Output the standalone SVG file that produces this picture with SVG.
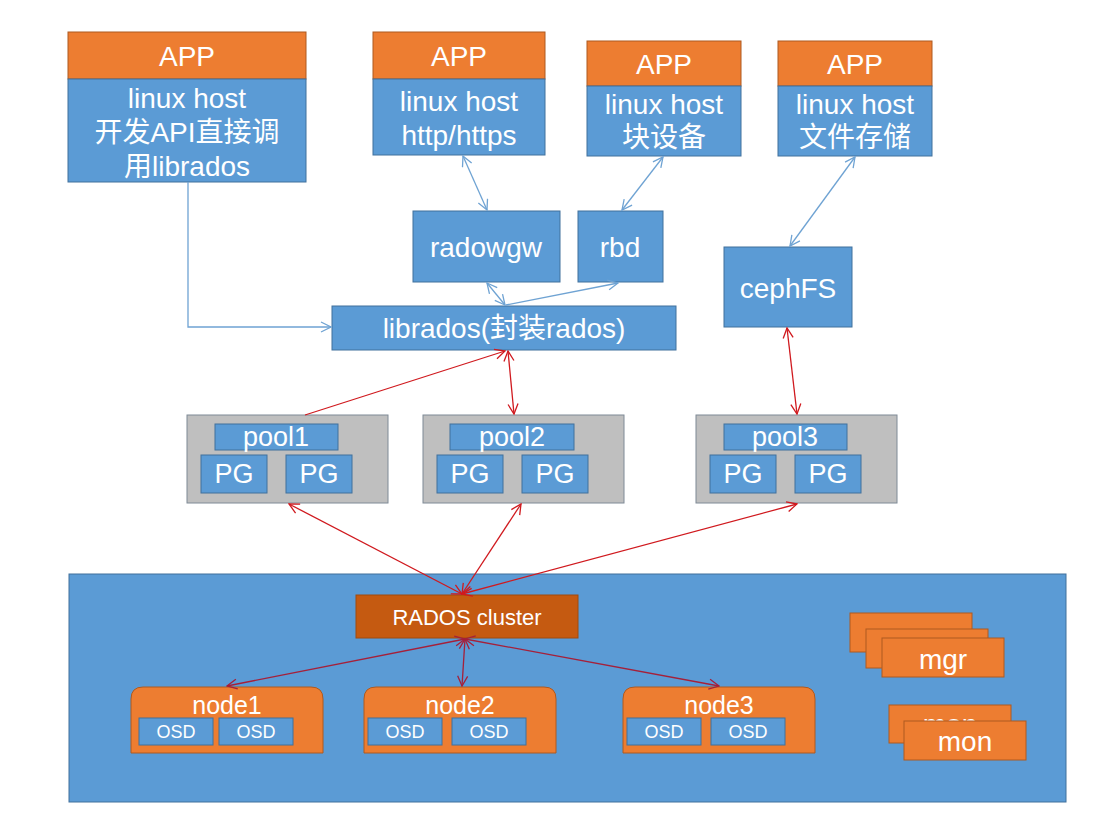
<svg xmlns="http://www.w3.org/2000/svg" width="1115" height="818" viewBox="0 0 1115 818">
<defs>
<style>
.o{fill:#ED7D31;stroke:#AE5A21;stroke-width:1}
.b{fill:#5B9BD5;stroke:#41719C;stroke-width:1}
.g{fill:#BFBFBF;stroke:#7F8A96;stroke-width:1}
.d{fill:#C55A11;stroke:#A04A0E;stroke-width:1}
text{fill:#fff;font-family:"Liberation Sans","Noto Sans CJK SC",sans-serif;text-anchor:middle;dominant-baseline:central}
.t28{font-size:28px}.t27{font-size:27px}.t24{font-size:25px}.t22{font-size:25px}.t19{font-size:22px}.t16{font-size:18px}
.lb{stroke:#6FA3D3;stroke-width:1.3;fill:none}
.lr{stroke:#D0191E;stroke-width:1.3;fill:none}
.lp{stroke:#A5203A;stroke-width:1.3;fill:none}
</style>
<marker id="ab" viewBox="0 0 12 12" refX="11" refY="6" markerWidth="12" markerHeight="12" markerUnits="userSpaceOnUse" orient="auto-start-reverse"><path d="M1,1 L11,6 L1,11" fill="none" stroke="#6FA3D3" stroke-width="1.3"/></marker>
<marker id="ar" viewBox="0 0 12 12" refX="11" refY="6" markerWidth="12" markerHeight="12" markerUnits="userSpaceOnUse" orient="auto-start-reverse"><path d="M1,1 L11,6 L1,11" fill="none" stroke="#D0191E" stroke-width="1.3"/></marker>
<marker id="ap" viewBox="0 0 12 12" refX="11" refY="6" markerWidth="12" markerHeight="12" markerUnits="userSpaceOnUse" orient="auto-start-reverse"><path d="M1,1 L11,6 L1,11" fill="none" stroke="#A5203A" stroke-width="1.3"/></marker>
</defs>
<rect width="1115" height="818" fill="#fff"/>

<g id="cluster">
<rect class="b" x="69" y="574" width="997" height="228"/>
</g>

<g id="app1">
<rect class="o" x="68" y="32" width="238" height="47"/>
<rect class="b" x="68" y="79" width="238" height="103"/>
<text class="t28" x="187" y="56">APP</text>
<text class="t28" x="187" y="98">linux host</text>
<text class="t28" x="187" y="132">开发API直接调</text>
<text class="t28" x="187" y="166">用librados</text>
</g>
<g id="app2">
<rect class="o" x="373" y="32" width="172" height="47"/>
<rect class="b" x="373" y="79" width="172" height="76"/>
<text class="t28" x="459" y="56">APP</text>
<text class="t28" x="459" y="101">linux host</text>
<text class="t28" x="459" y="135">http/https</text>
</g>
<g id="app3">
<rect class="o" x="587" y="41" width="154" height="45"/>
<rect class="b" x="587" y="86" width="154" height="70"/>
<text class="t28" x="664" y="64">APP</text>
<text class="t28" x="664" y="104">linux host</text>
<text class="t28" x="664" y="137">块设备</text>
</g>
<g id="app4">
<rect class="o" x="778" y="41" width="154" height="45"/>
<rect class="b" x="778" y="86" width="154" height="70"/>
<text class="t28" x="855" y="64">APP</text>
<text class="t28" x="855" y="104">linux host</text>
<text class="t28" x="855" y="137">文件存储</text>
</g>

<g id="radowgw"><rect class="b" x="413" y="211" width="147" height="71"/><text class="t28" x="486" y="247">radowgw</text></g>
<g id="rbd"><rect class="b" x="578" y="211" width="85" height="71"/><text class="t28" x="620" y="247">rbd</text></g>
<g id="cephfs"><rect class="b" x="724" y="247" width="128" height="80"/><text class="t28" x="788" y="288">cephFS</text></g>
<g id="librados"><rect class="b" x="332" y="306" width="344" height="44"/><text class="t28" x="504" y="328">librados(封装rados)</text></g>

<g id="pool1">
<rect class="g" x="187" y="415" width="201" height="88"/>
<rect class="b" x="215" y="424" width="123" height="26"/><text class="t27" x="276" y="437">pool1</text>
<rect class="b" x="201" y="455" width="66" height="38"/><text class="t27" x="234" y="474">PG</text>
<rect class="b" x="286" y="455" width="66" height="38"/><text class="t27" x="319" y="474">PG</text>
</g>
<g id="pool2">
<rect class="g" x="423" y="415" width="201" height="88"/>
<rect class="b" x="450" y="424" width="124" height="26"/><text class="t27" x="512" y="437">pool2</text>
<rect class="b" x="437" y="455" width="66" height="38"/><text class="t27" x="470" y="474">PG</text>
<rect class="b" x="522" y="455" width="66" height="38"/><text class="t27" x="555" y="474">PG</text>
</g>
<g id="pool3">
<rect class="g" x="696" y="415" width="201" height="88"/>
<rect class="b" x="724" y="424" width="123" height="26"/><text class="t27" x="785" y="437">pool3</text>
<rect class="b" x="710" y="455" width="66" height="38"/><text class="t27" x="743" y="474">PG</text>
<rect class="b" x="795" y="455" width="66" height="38"/><text class="t27" x="828" y="474">PG</text>
</g>

<g id="rados"><rect class="d" x="356" y="595" width="222" height="43"/><text class="t19" x="467" y="617">RADOS cluster</text></g>

<g id="node1">
<path class="o" d="M131,753 V699 Q131,687 143,687 H311 Q323,687 323,699 V753 Z"/>
<text class="t22" x="227" y="705">node1</text>
<rect class="b" x="139" y="718" width="74" height="27"/><text class="t16" x="176" y="732">OSD</text>
<rect class="b" x="219" y="718" width="74" height="27"/><text class="t16" x="256" y="732">OSD</text>
</g>
<g id="node2">
<path class="o" d="M364,753 V699 Q364,687 376,687 H544 Q556,687 556,699 V753 Z"/>
<text class="t22" x="460" y="705">node2</text>
<rect class="b" x="368" y="718" width="74" height="27"/><text class="t16" x="405" y="732">OSD</text>
<rect class="b" x="452" y="718" width="74" height="27"/><text class="t16" x="489" y="732">OSD</text>
</g>
<g id="node3">
<path class="o" d="M623,753 V699 Q623,687 635,687 H803 Q815,687 815,699 V753 Z"/>
<text class="t22" x="719" y="705">node3</text>
<rect class="b" x="627" y="718" width="74" height="27"/><text class="t16" x="664" y="732">OSD</text>
<rect class="b" x="711" y="718" width="74" height="27"/><text class="t16" x="748" y="732">OSD</text>
</g>

<g id="mgr">
<rect class="o" x="850" y="613" width="122" height="39"/>
<rect class="o" x="866" y="629" width="122" height="39"/>
<rect class="o" x="882" y="638" width="122" height="39"/>
<text class="t28" x="943" y="659">mgr</text>
</g>
<g id="mon">
<rect class="o" x="889" y="705" width="122" height="38"/>
<text class="t28" x="950" y="724">mon</text>
<rect class="o" x="904" y="721" width="122" height="39"/>
<text class="t28" x="965" y="741">mon</text>
</g>

<g id="connectors">
<path class="lb" d="M188,182 V327 H331" marker-end="url(#ab)"/>
<path class="lb" d="M463,156 L487,210" marker-start="url(#ab)" marker-end="url(#ab)"/>
<path class="lb" d="M663,157 L622,210" marker-start="url(#ab)" marker-end="url(#ab)"/>
<path class="lb" d="M855,157 L790,246" marker-start="url(#ab)" marker-end="url(#ab)"/>
<path class="lb" d="M487,283 L505,305" marker-start="url(#ab)" marker-end="url(#ab)"/>
<path class="lb" d="M618,283 L506,305" marker-start="url(#ab)"/>
<path class="lr" d="M305,415 L505,351" marker-end="url(#ar)"/>
<path class="lr" d="M514,414 L508,351" marker-start="url(#ar)" marker-end="url(#ar)"/>
<path class="lr" d="M787,328 L797,414" marker-start="url(#ar)" marker-end="url(#ar)"/>
<path class="lr" d="M462,594 L289,504" marker-start="url(#ar)" marker-end="url(#ar)"/>
<path class="lr" d="M462,594 L521,504" marker-start="url(#ar)" marker-end="url(#ar)"/>
<path class="lr" d="M462,594 L797,504" marker-start="url(#ar)" marker-end="url(#ar)"/>
<path class="lp" d="M465,639 L227,686" marker-start="url(#ap)" marker-end="url(#ap)"/>
<path class="lp" d="M465,639 L462,686" marker-start="url(#ap)" marker-end="url(#ap)"/>
<path class="lp" d="M465,639 L719,686" marker-start="url(#ap)" marker-end="url(#ap)"/>
</g>
</svg>
